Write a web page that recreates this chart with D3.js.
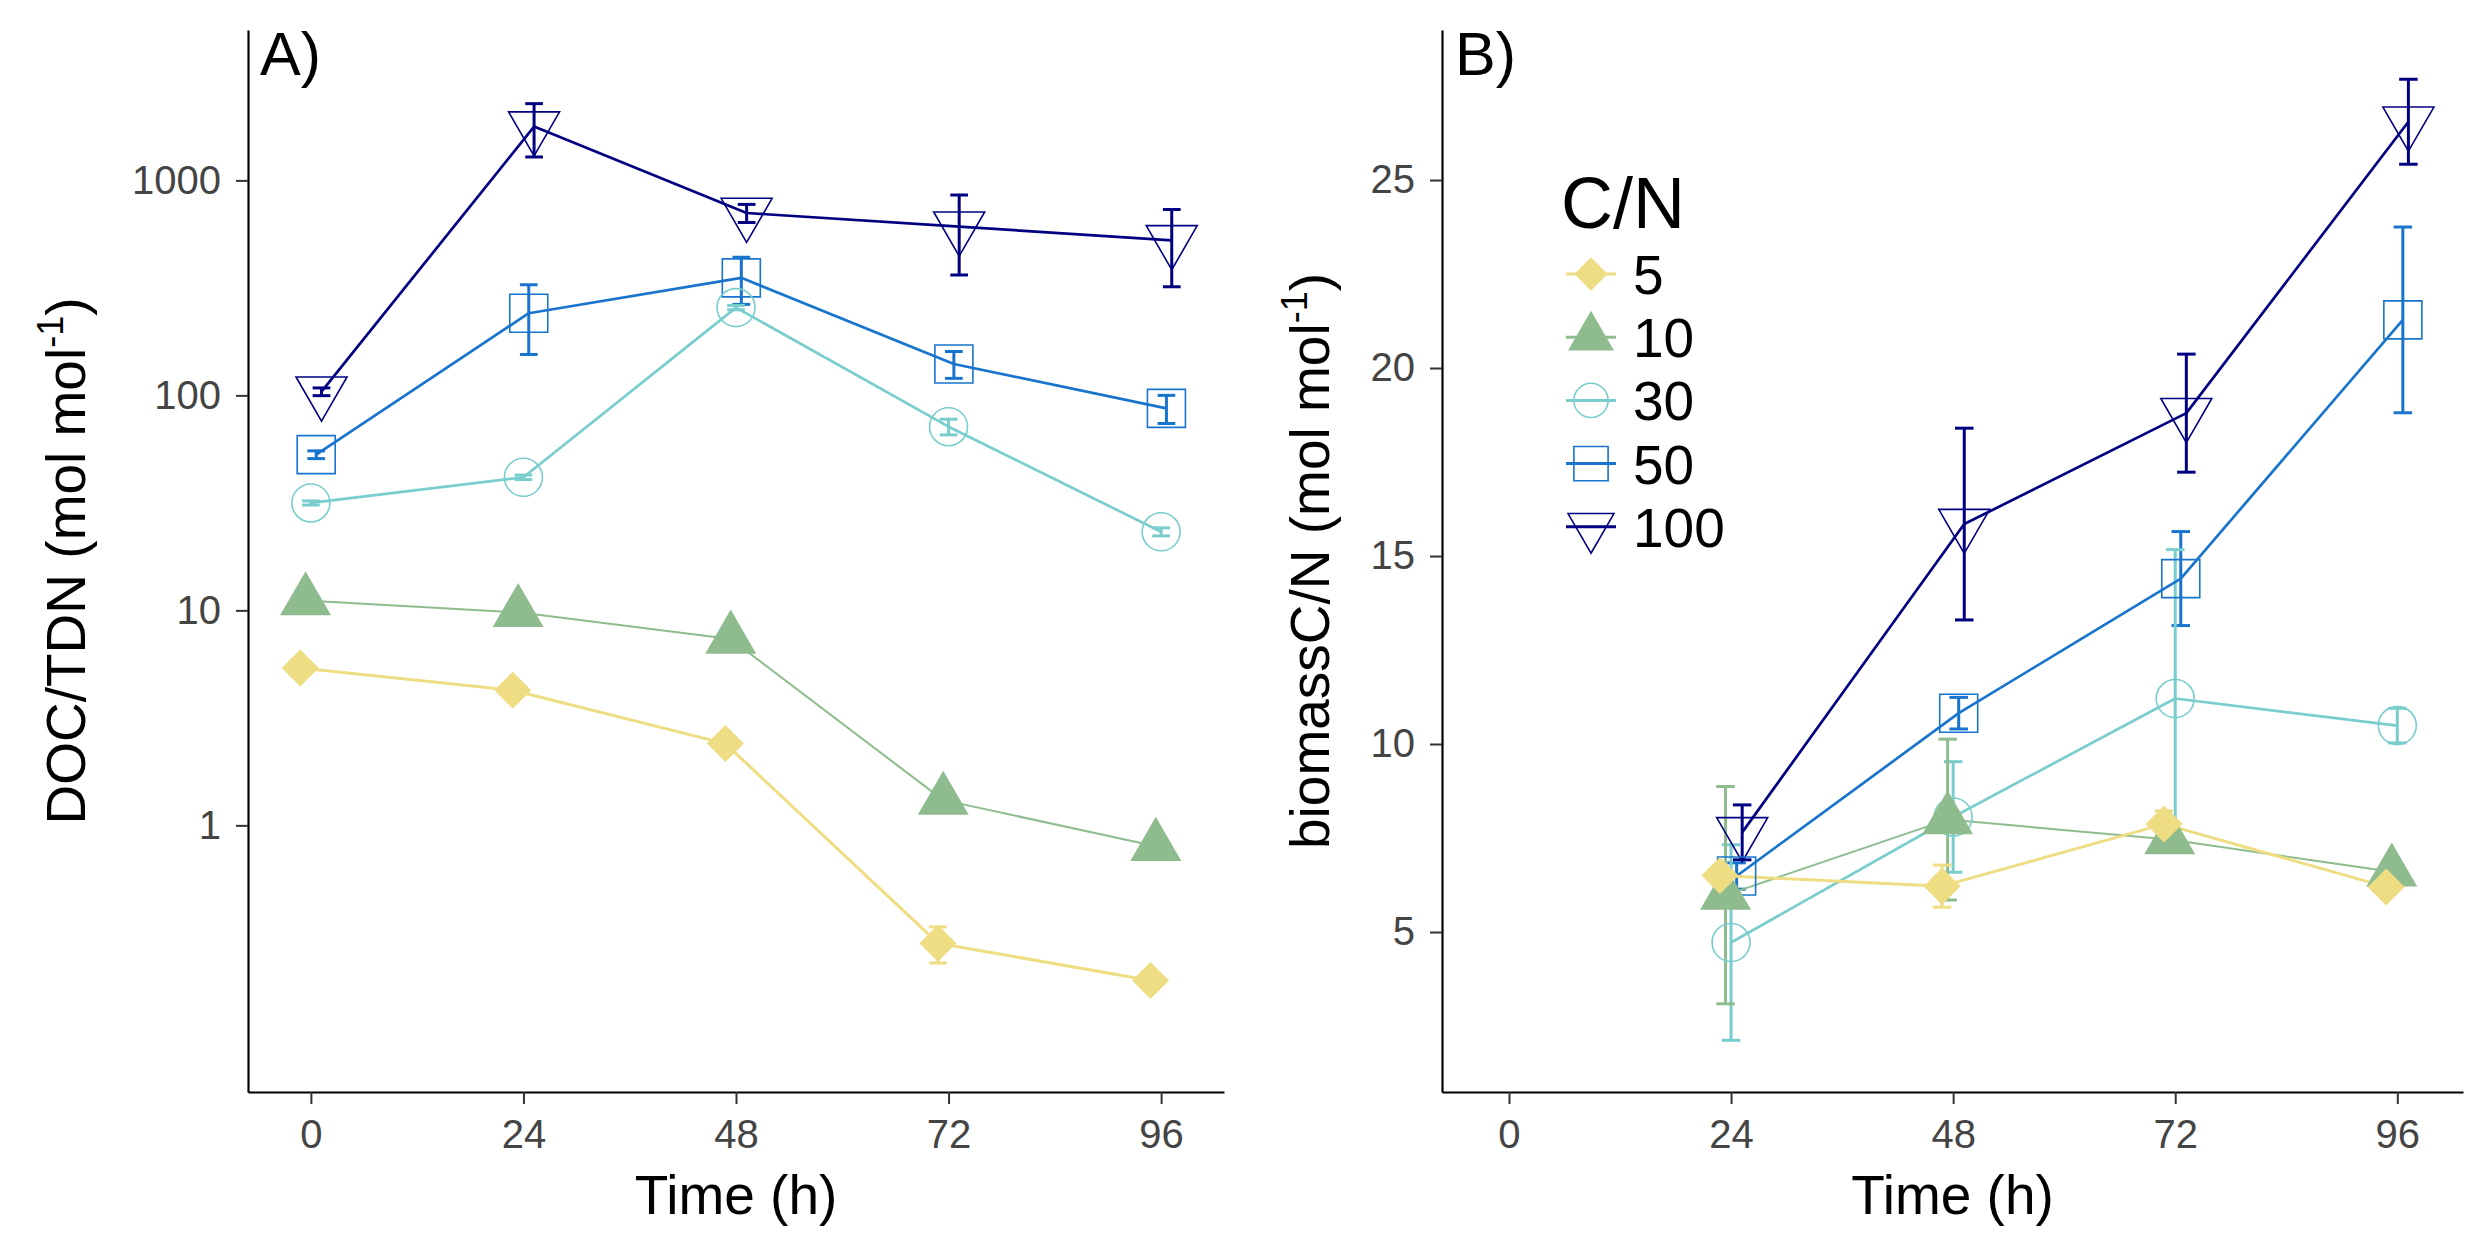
<!DOCTYPE html>
<meta charset="utf-8">
<script src="https://d3js.org/d3.v7.min.js"></script>
<style>
body { margin: 0; background: #fff; }
text { font-family: "Liberation Sans", Arial, Helvetica, sans-serif; }
</style>
<div id="chart"></div>
<script>
// C/N treatments (legend order)
const groups = ["5", "10", "30", "50", "100"];
const timesA = [0, 24, 48, 72, 96];
const timesB = [24, 48, 72, 96];
const xTicks = [0, 24, 48, 72, 96];
const yTicksA = [1, 10, 100, 1000];
const yTicksB = [5, 10, 15, 20, 25];

// A) DOC/TDN, one row per group
const docMean = [
  [5.40, 4.25, 2.40, 0.283, 0.190],
  [11.1, 9.79, 7.36, 1.31, 0.80],
  [31.6, 41.6, 256, 71.5, 23.2],
  [53.0, 241, 352, 140, 87],
  [104, 1780, 705, 609, 526]
];
const docErr = [
  [0.10, 0.10, 0.05, 0.054, 0.005],
  [0.3, 0.2, 0.2, 0.05, 0.03],
  [0.7, 1.0, 6, 6, 1.0],
  [2.2, 86, 87, 20, 13],
  [4.3, 495, 68, 246, 206]
];

// B) biomass C/N, one row per group
const bioMean = [
  [6.50, 6.22, 7.87, 6.20],
  [5.98, 7.99, 7.46, 6.60],
  [4.72, 8.06, 11.21, 10.49],
  [6.49, 10.82, 14.40, 21.28],
  [7.65, 15.85, 18.80, 26.55]
];
const bioErr = [
  [0.12, 0.56, 0.35, 0.10],
  [2.89, 2.14, 0.20, 0.15],
  [2.60, 1.47, 3.96, 0.46],
  [0.35, 0.42, 1.25, 2.47],
  [0.73, 2.55, 1.57, 1.13]
];

// styles per group
const colors = ["#EEDD82", "#8FBC8F", "#79CDCD", "#1874CD", "#000080"];
const shapes = ["diamond", "triangle", "circle", "square", "invtriangle"];
const lineWidths = [3, 2, 2.7, 2.7, 2.7];

const W = 2488, H = 1250;
const svg = d3.select("#chart").append("svg")
    .attr("width", W)
    .attr("height", H)
    .style("display", "block");
svg.append("rect").attr("width", W).attr("height", H).attr("fill", "#fff");

function markerPath(shape, k) {
  const r = 19 * k;
  const d = 18.5 * k;
  switch (shape) {
    case "diamond": return `M0,${-d}L${d},0L0,${d}L${-d},0Z`;
    case "triangle": return `M0,${-29.4*k}L${25.5*k},${14.7*k}L${-25.5*k},${14.7*k}Z`;
    case "invtriangle": return `M0,${29.4*k}L${25.5*k},${-14.7*k}L${-25.5*k},${-14.7*k}Z`;
    case "square": return `M${-r},${-r}h${2*r}v${2*r}h${-2*r}Z`;
    default: {
      const p = d3.path();
      p.arc(0, 0, r, 0, 2 * Math.PI);
      p.closePath();
      return p.toString();
    }
  }
}
const isFilled = s => s === "diamond" || s === "triangle";

function drawMarker(g, i, k) {
  const filled = isFilled(shapes[i]);
  return g.append("path")
    .attr("d", markerPath(shapes[i], k))
    .attr("fill", filled ? colors[i] : "none")
    .attr("stroke", filled ? "none" : colors[i])
    .attr("stroke-width", 1.6);
}

function styleAxis(g) {
  g.attr("font-family", null).attr("font-size", null);
  g.select(".domain").attr("stroke", "#000").attr("stroke-width", 2.2);
  g.selectAll(".tick line").attr("stroke", "#333").attr("stroke-width", 2);
  g.selectAll(".tick text")
    .attr("fill", "#444")
    .style("font-size", "40px")
    .style("font-family", "'Liberation Sans', Arial, sans-serif");
}

function drawPanel(p) {
  const x = d3.scaleLinear().domain(p.xDomain).range(p.xRange);
  const y = p.y;
  const g = svg.append("g");

  // position_dodge(width = 3)
  const off = i => (i - 2) * 3 / 5;
  const series = groups.map((name, i) => ({
    i,
    pts: p.times.map((t, j) => ({ t: t + off(i), m: p.mean[i][j], e: p.err[i][j] }))
  }));
  const order = series.slice().reverse();

  // error bars
  order.forEach(s => {
    const eg = g.append("g")
      .attr("stroke", colors[s.i])
      .attr("stroke-width", 3)
      .attr("fill", "none");
    s.pts.forEach(d => {
      const lo = y(Math.max(d.m - d.e, 1e-6)), hi = y(d.m + d.e);
      eg.append("line").attr("x1", x(d.t)).attr("x2", x(d.t)).attr("y1", lo).attr("y2", hi);
      eg.append("line").attr("x1", x(d.t - 1)).attr("x2", x(d.t + 1)).attr("y1", lo).attr("y2", lo);
      eg.append("line").attr("x1", x(d.t - 1)).attr("x2", x(d.t + 1)).attr("y1", hi).attr("y2", hi);
    });
  });

  // lines
  const line = d3.line().x(d => x(d.t)).y(d => y(d.m));
  order.forEach(s => {
    g.append("path")
      .attr("d", line(s.pts))
      .attr("fill", "none")
      .attr("stroke", colors[s.i])
      .attr("stroke-width", lineWidths[s.i])
      .attr("stroke-linejoin", "round");
  });

  // points
  order.forEach(s => {
    s.pts.forEach(d => {
      drawMarker(g, s.i, 1).attr("transform", `translate(${x(d.t)},${y(d.m)})`);
    });
  });

  // axes
  const ax = svg.append("g")
    .attr("transform", `translate(0,${p.yRange[0]})`)
    .call(d3.axisBottom(x).tickValues(xTicks).tickSize(12).tickSizeOuter(0).tickPadding(16));
  styleAxis(ax);
  const ay = svg.append("g")
    .attr("transform", `translate(${p.xRange[0]},0)`)
    .call(d3.axisLeft(y).tickValues(p.yTicks).tickFormat(d3.format("d")).tickSize(12).tickSizeOuter(0).tickPadding(15));
  styleAxis(ay);

  // axis titles
  const cx = (p.xRange[0] + p.xRange[1]) / 2;
  svg.append("text")
    .attr("x", cx).attr("y", 1214)
    .attr("text-anchor", "middle")
    .style("font-size", "55px")
    .text("Time (h)");

  const cy = (p.yRange[0] + p.yRange[1]) / 2;
  const yt = svg.append("text")
    .attr("transform", `translate(${p.yTitleX},${cy}) rotate(-90)`)
    .attr("text-anchor", "middle")
    .style("font-size", "55px");
  yt.append("tspan").text(p.yTitle + " (mol mol");
  yt.append("tspan").attr("dy", -22).style("font-size", "36px").text("-1");
  yt.append("tspan").attr("dy", 22).text(")");

  // panel tag
  svg.append("text")
    .attr("x", p.tagX).attr("y", 75)
    .style("font-size", "61px")
    .text(p.tag);

  return { x, y };
}

drawPanel({
  tag: "A)", tagX: 260,
  times: timesA, mean: docMean, err: docErr,
  xDomain: [-7.1, 103.1], xRange: [248, 1224],
  yRange: [1092, 30],
  y: d3.scaleLog().domain([0.0575, 5006]).range([1092, 30]),
  yTicks: yTicksA,
  yTitle: "DOC/TDN", yTitleX: 85
});

drawPanel({
  tag: "B)", tagX: 1455,
  times: timesB, mean: bioMean, err: bioErr,
  xDomain: [-7.24, 103.1], xRange: [1442, 2463],
  yRange: [1092, 30],
  y: d3.scaleLinear().domain([0.745, 28.99]).range([1092, 30]),
  yTicks: yTicksB,
  yTitle: "biomassC/N", yTitleX: 1329
});

// legend
const legend = svg.append("g");
legend.append("text")
  .attr("x", 1561).attr("y", 228)
  .style("font-size", "72px")
  .text("C/N");
groups.forEach((name, i) => {
  const row = legend.append("g").attr("transform", `translate(1591,${274 + i * 63.2})`);
  row.append("line")
    .attr("x1", -25).attr("x2", 25)
    .attr("stroke", colors[i]).attr("stroke-width", 3);
  drawMarker(row, i, 0.9);
  row.append("text")
    .attr("x", 42).attr("y", 20)
    .style("font-size", "55px")
    .text(name);
});
</script>
